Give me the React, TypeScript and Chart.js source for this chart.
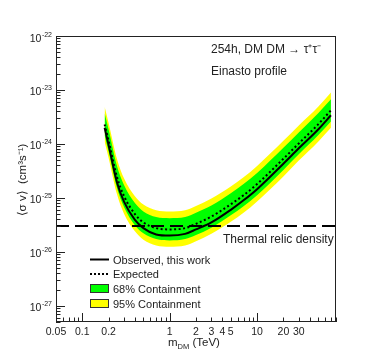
import React, { useEffect, useRef } from "react";
import { Chart, registerables } from "chart.js";

Chart.register(...registerables);

// ---- data ----
const masses = [0.18, 0.2, 0.25, 0.3, 0.4, 0.5, 0.7, 1, 1.5, 2, 3, 5, 7, 10, 20, 30, 50, 70];
const observed = [2.0e-24, 9.5e-25, 1.9e-25, 8.5e-26, 3.9e-26, 2.75e-26, 2.1e-26, 2.0e-26, 2.15e-26, 2.6e-26, 3.5e-26, 6.0e-26, 9.0e-26, 1.45e-25, 4.3e-25, 8.3e-25, 1.85e-24, 3.4e-24];
const expected = [2.3e-24, 1.15e-24, 2.4e-25, 1.08e-25, 5.0e-26, 3.5e-26, 2.75e-26, 2.6e-26, 2.75e-26, 3.3e-26, 4.5e-26, 7.6e-26, 1.12e-25, 1.8e-25, 5.3e-25, 1.02e-24, 2.3e-24, 4.2e-24];
const green68Upper = [3.7e-24, 1.85e-24, 3.85e-25, 1.73e-25, 8.0e-26, 5.6e-26, 4.4e-26, 4.2e-26, 4.4e-26, 5.3e-26, 7.2e-26, 1.22e-25, 1.8e-25, 2.9e-25, 8.5e-25, 1.63e-24, 3.7e-24, 6.7e-24];
const green68Lower = [1.45e-24, 7.2e-25, 1.5e-25, 6.8e-26, 3.1e-26, 2.2e-26, 1.72e-26, 1.62e-26, 1.72e-26, 2.05e-26, 2.8e-26, 4.75e-26, 7.0e-26, 1.12e-25, 3.3e-25, 6.4e-25, 1.44e-24, 2.6e-24];
const yellow95Upper = [4.9e-24, 2.45e-24, 5.2e-25, 2.3e-25, 1.07e-25, 7.5e-26, 5.9e-26, 5.6e-26, 5.9e-26, 7.1e-26, 9.7e-26, 1.63e-25, 2.4e-25, 3.9e-25, 1.14e-24, 2.2e-24, 4.9e-24, 9.0e-24];
const yellow95Lower = [1.1e-24, 5.5e-25, 1.15e-25, 5.1e-26, 2.4e-26, 1.67e-26, 1.31e-26, 1.24e-26, 1.31e-26, 1.57e-26, 2.15e-26, 3.6e-26, 5.3e-26, 8.6e-26, 2.5e-25, 4.9e-25, 1.1e-24, 2.0e-24];
const thermalRelic = 3e-26;

const xRange = [0.05, 80];
const yRange = [5e-28, 1e-22];
const xTickValues = [0.05, 0.1, 0.2, 1, 2, 3, 4, 5, 10, 20, 30];
const xTickLabels = ["0.05", "0.1", "0.2", "1", "2", "3", "4", "5", "10", "20", "30"];
const xMajorTicks = [0.1, 1, 10];
const yDecades = [-22, -23, -24, -25, -26, -27];

const FONT = '"Liberation Sans", Arial, Helvetica, sans-serif';

const pts = (arr: number[]) => arr.map((v, i) => ({ x: masses[i], y: v }));

const decorPlugin = {
  id: "decor",
  afterDraw(chart: any) {
    const ctx = chart.ctx;
    const xs = chart.scales.x;
    const ys = chart.scales.y;
    const a = chart.chartArea;
    ctx.save();
    ctx.strokeStyle = "#222";
    ctx.lineWidth = 1;
    // frame
    ctx.strokeRect(Math.round(a.left) + 0.5, Math.round(a.top) + 0.5, Math.round(a.right - a.left) - 1, Math.round(a.bottom - a.top) - 1);

    // x ticks
    const xMinLog = Math.log10(xRange[0]);
    const xMaxLog = Math.log10(xRange[1]);
    ctx.beginPath();
    for (let d = Math.floor(xMinLog); d <= Math.ceil(xMaxLog); d++) {
      for (let k = 1; k <= 9; k++) {
        const v = k * Math.pow(10, d);
        if (v < xRange[0] * 0.999 || v > xRange[1] * 1.001) continue;
        const px = Math.round(xs.getPixelForValue(v)) + 0.5;
        const len = k === 1 ? 9 : 4.5;
        ctx.moveTo(px, a.bottom);
        ctx.lineTo(px, a.bottom - len);
      }
    }
    // y ticks
    const yMinLog = Math.log10(yRange[0]);
    const yMaxLog = Math.log10(yRange[1]);
    for (let d = Math.floor(yMinLog); d <= Math.ceil(yMaxLog); d++) {
      for (let k = 1; k <= 9; k++) {
        const v = k * Math.pow(10, d);
        if (v < yRange[0] * 0.999 || v > yRange[1] * 1.001) continue;
        const py = Math.round(ys.getPixelForValue(v)) + 0.5;
        const len = k === 1 ? 9 : 4.5;
        ctx.moveTo(a.left, py);
        ctx.lineTo(a.left + len, py);
      }
    }
    ctx.stroke();

    ctx.fillStyle = "#222";
    // x labels
    ctx.font = `10.5px ${FONT}`;
    ctx.textAlign = "center";
    ctx.textBaseline = "alphabetic";
    xTickValues.forEach((v, i) => {
      ctx.fillText(xTickLabels[i], xs.getPixelForValue(v), a.bottom + 13);
    });
    // y labels
    yDecades.forEach((e) => {
      const py = ys.getPixelForValue(Math.pow(10, e));
      ctx.font = `7px ${FONT}`;
      const sup = `-${Math.abs(e)}`;
      const sw = ctx.measureText(sup).width;
      ctx.textAlign = "left";
      const supX = a.left - 4 - sw;
      ctx.fillText(sup, supX, py + 0.5);
      ctx.font = `10.5px ${FONT}`;
      ctx.textAlign = "right";
      ctx.fillText("10", supX - 0.5, py + 5.5);
    });

    // x title
    ctx.textAlign = "left";
    ctx.font = `11.5px ${FONT}`;
    let tx = 168;
    const ty = 346;
    ctx.fillText("m", tx, ty);
    tx += ctx.measureText("m").width;
    ctx.font = `7.5px ${FONT}`;
    ctx.fillText("DM", tx, ty + 3);
    tx += ctx.measureText("DM").width;
    ctx.font = `11.5px ${FONT}`;
    ctx.fillText(" (TeV)", tx, ty);

    // y title
    ctx.save();
    ctx.translate(26, 180);
    ctx.rotate(-Math.PI / 2);
    ctx.textAlign = "center";
    ctx.font = `11.5px ${FONT}`;
    ctx.fillText("\u27E8\u03C3 v\u27E9  (cm\u00B3s\u207B\u00B9)", 0, 0);
    ctx.restore();

    // annotations
    ctx.textAlign = "left";
    ctx.font = `12px ${FONT}`;
    ctx.fillText("254h, DM DM \u2192 \u03C4\u207A\u03C4\u207B", 211, 53);
    ctx.fillText("Einasto profile", 211, 75);
    ctx.fillText("Thermal relic density", 223, 243);

    // legend
    const lx = 90;
    ctx.font = `11px ${FONT}`;
    ctx.strokeStyle = "#000";
    ctx.lineWidth = 2;
    ctx.beginPath();
    ctx.moveTo(lx, 259.5);
    ctx.lineTo(lx + 19, 259.5);
    ctx.stroke();
    ctx.setLineDash([2, 2]);
    ctx.beginPath();
    ctx.moveTo(lx, 274);
    ctx.lineTo(lx + 19, 274);
    ctx.stroke();
    ctx.setLineDash([]);
    ctx.lineWidth = 1;
    ctx.fillStyle = "#00ff00";
    ctx.fillRect(lx, 284, 19, 9);
    ctx.strokeStyle = "#333";
    ctx.strokeRect(lx + 0.5, 284.5, 18, 8);
    ctx.fillStyle = "#ffff00";
    ctx.fillRect(lx, 299, 19, 9);
    ctx.strokeRect(lx + 0.5, 299.5, 18, 8);
    ctx.fillStyle = "#222";
    ctx.fillText("Observed, this work", 113, 263.5);
    ctx.fillText("Expected", 113, 278);
    ctx.fillText("68% Containment", 113, 292.5);
    ctx.fillText("95% Containment", 113, 307.5);
    ctx.restore();
  },
};

export default function App() {
  const ref = useRef<HTMLCanvasElement | null>(null);
  useEffect(() => {
    if (!ref.current) return;
    const chart = new Chart(ref.current, {
      type: "line",
      data: {
        datasets: [
          {
            label: "Thermal relic density",
            data: [
              { x: xRange[0], y: thermalRelic },
              { x: xRange[1], y: thermalRelic },
            ],
            borderColor: "#000",
            borderWidth: 2,
            borderDash: [13, 6],
            pointRadius: 0,
            fill: false,
          },
          {
            label: "Observed, this work",
            data: pts(observed),
            borderColor: "#000",
            borderWidth: 2,
            pointRadius: 0,
            fill: false,
            cubicInterpolationMode: "monotone",
          },
          {
            label: "Expected",
            data: pts(expected),
            borderColor: "#000",
            borderWidth: 2,
            borderDash: [2, 2.5],
            pointRadius: 0,
            fill: false,
            cubicInterpolationMode: "monotone",
          },
          {
            label: "68% upper",
            data: pts(green68Upper),
            borderWidth: 0,
            borderColor: "rgba(0,0,0,0)",
            backgroundColor: "#00ff00",
            pointRadius: 0,
            fill: "+1",
            cubicInterpolationMode: "monotone",
          },
          {
            label: "68% lower",
            data: pts(green68Lower),
            borderWidth: 0,
            borderColor: "rgba(0,0,0,0)",
            pointRadius: 0,
            fill: false,
            cubicInterpolationMode: "monotone",
          },
          {
            label: "95% upper",
            data: pts(yellow95Upper),
            borderWidth: 0,
            borderColor: "rgba(0,0,0,0)",
            backgroundColor: "#ffff00",
            pointRadius: 0,
            fill: "+1",
            cubicInterpolationMode: "monotone",
          },
          {
            label: "95% lower",
            data: pts(yellow95Lower),
            borderWidth: 0,
            borderColor: "rgba(0,0,0,0)",
            pointRadius: 0,
            fill: false,
            cubicInterpolationMode: "monotone",
          },
        ],
      },
      options: {
        animation: false,
        responsive: false,
        maintainAspectRatio: false,
        layout: { padding: { left: 56, top: 36, right: 38, bottom: 37 } },
        plugins: { legend: { display: false }, tooltip: { enabled: false } },
        scales: {
          x: { type: "logarithmic", min: xRange[0], max: xRange[1], display: false },
          y: { type: "logarithmic", min: yRange[0], max: yRange[1], display: false },
        },
      },
      plugins: [decorPlugin],
    } as any);
    return () => chart.destroy();
  }, []);
  return (
    <div style={{ position: "fixed", left: 0, top: 0, width: 374, height: 359, background: "#fff" }}>
      <canvas ref={ref} width={374} height={359} style={{ width: 374, height: 359 }} />
    </div>
  );
}
